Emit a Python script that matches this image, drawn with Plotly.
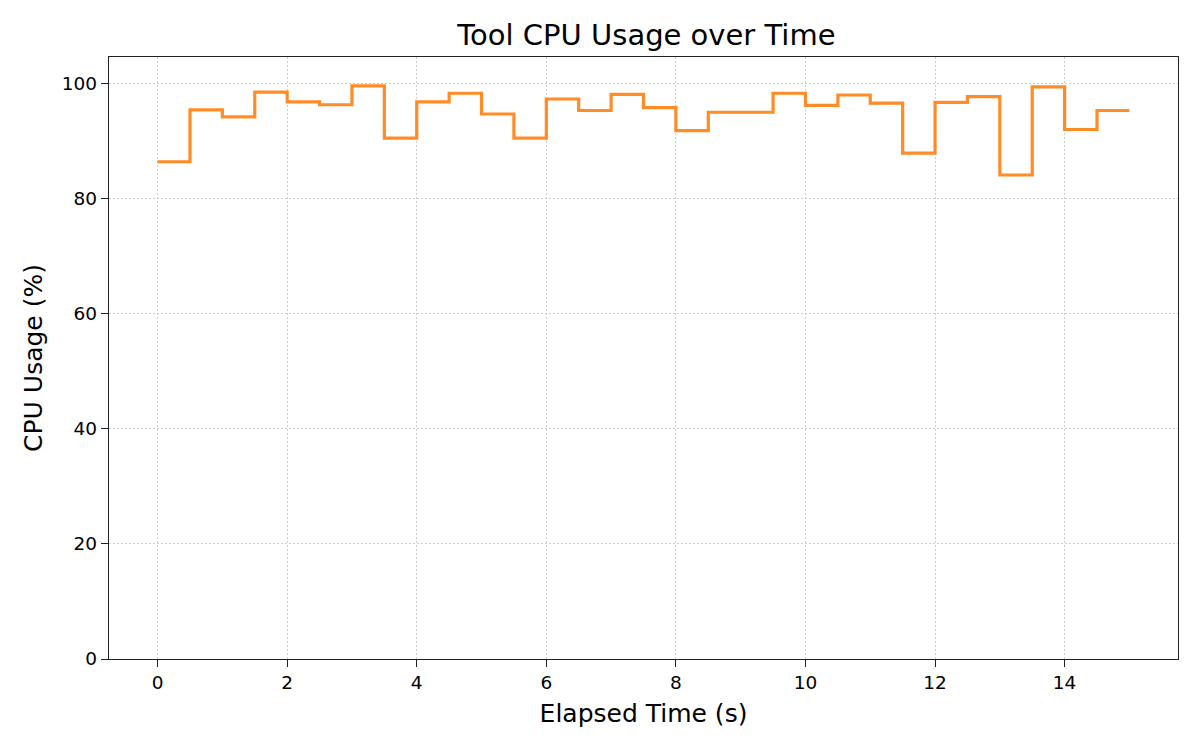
import plotly.graph_objects as go

# elapsed time (s) and tool CPU usage (%), drawn as post-steps
elapsed = [0, 0.5, 1, 1.5, 2, 2.5, 3, 3.5, 4, 4.5, 5, 5.5, 6, 6.5, 7, 7.5,
           8, 8.5, 9, 9.5, 10, 10.5, 11, 11.5, 12, 12.5, 13, 13.5, 14, 14.5, 15]
cpu_usage = [86.4, 95.4, 94.2, 98.5, 96.8, 96.3, 99.6, 90.5, 96.8, 98.3, 94.7,
             90.5, 97.3, 95.3, 98.1, 95.8, 91.8, 95.0, 95.0, 98.3, 96.2, 98.0,
             96.6, 87.9, 96.7, 97.7, 84.1, 99.4, 92.0, 95.3, 95.3]

x_ticks = [0, 2, 4, 6, 8, 10, 12, 14]
y_ticks = [0, 20, 40, 60, 80, 100]

LINE = "rgba(255,127,14,0.9)"
FONT = "DejaVu Sans, Liberation Sans, sans-serif"

fig = go.Figure()
fig.add_trace(
    go.Scatter(x=elapsed, y=cpu_usage, mode="lines", line_shape="hv",
               line=dict(color=LINE, width=3.2), showlegend=False)
)

axis_common = dict(
    showline=True, linecolor="#222222", linewidth=1.4, mirror=True,
    ticks="outside", ticklen=7, tickwidth=1.4, tickcolor="#222222",
    showgrid=True, gridcolor="#cfcfcf", griddash="2px,2px", gridwidth=1,
    zeroline=False, tickfont=dict(size=18.5, color="#000000", family=FONT),
)

fig.update_xaxes(range=[-0.75, 15.75], tickvals=x_ticks,
                 title=dict(text="Elapsed Time (s)", standoff=12,
                            font=dict(size=25, color="#000000", family=FONT)),
                 **axis_common)
fig.update_yaxes(range=[0, 104.6], tickvals=y_ticks,
                 title=dict(text="CPU Usage (%)", standoff=12,
                            font=dict(size=25, color="#000000", family=FONT)),
                 **axis_common)

# page body adds ~8px offset, margins compensate for it
fig.update_layout(
    width=1200, height=750,
    paper_bgcolor="white", plot_bgcolor="white",
    font=dict(family=FONT, color="#000000"),
    margin=dict(l=101, r=30, t=49, b=99),
    title=dict(text="Tool CPU Usage over Time", x=0.532, xanchor="center",
               y=1 - 27 / 750, yanchor="middle", yref="container",
               font=dict(size=29, color="#000000", family=FONT)),
)

fig.write_html("out.html")
